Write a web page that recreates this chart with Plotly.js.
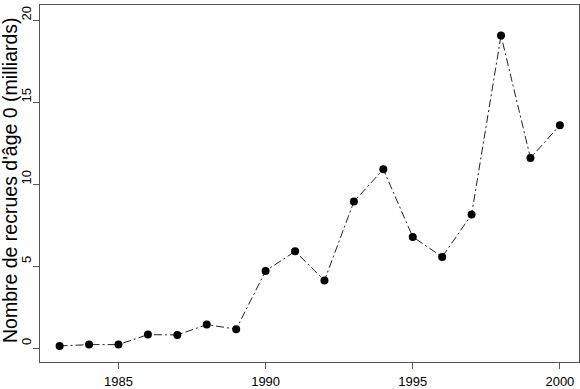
<!DOCTYPE html>
<html>
<head>
<meta charset="utf-8">
<script src="https://cdn.plot.ly/plotly-3.0.1.min.js"></script>
<style>html,body{margin:0;padding:0;background:#fff;}#chart{width:580px;height:389px;}</style>
</head>
<body>
<div id="chart"></div>
<script>
const years = [1983,1984,1985,1986,1987,1988,1989,1990,1991,1992,1993,1994,1995,1996,1997,1998,1999,2000];
const recrues = [0.14,0.22,0.22,0.83,0.81,1.44,1.16,4.71,5.91,4.13,8.94,10.91,6.79,5.57,8.15,19.07,11.60,13.60];
const xTicks = [1985,1990,1995,2000];
const yTicks = [0,5,10,15,20];
const yTitle = "Nombre de recrues d'âge 0 (milliards)";

const axisCommon = {
  showgrid:false, zeroline:false, showline:true, linecolor:'#555', linewidth:1,
  mirror:true, ticks:'outside', ticklen:6, tickcolor:'#555', tickwidth:1,
  tickfont:{family:'Liberation Sans, Arial, sans-serif', size:13, color:'#000'},
  fixedrange:true
};

Plotly.newPlot('chart', [{
  x: years, y: recrues, type:'scatter', mode:'lines+markers',
  line:{color:'#222', width:1, dash:'8px,3px,2px,3px'},
  marker:{color:'#000', size:8},
  hoverinfo:'skip'
}], {
  width:580, height:389,
  margin:{l:40, r:1, t:5, b:27, pad:0},
  paper_bgcolor:'#fff', plot_bgcolor:'#fff',
  showlegend:false,
  xaxis: Object.assign({}, axisCommon, {
    range:[1982.333, 2000.65], tickmode:'array', tickvals:xTicks, ticktext:xTicks.map(String),
    ticklabelstandoff:1
  }),
  yaxis: Object.assign({}, axisCommon, {
    range:[-0.84, 20.93], tickmode:'array', tickvals:yTicks, ticktext:yTicks.map(String),
    tickangle:-90, ticklabelshift:-5, ticklabelstandoff:-3
  }),
  annotations:[{
    text:yTitle, textangle:-90, showarrow:false,
    xref:'paper', yref:'paper', x:-0.0555, y:0.51, xanchor:'center', yanchor:'middle',
    font:{family:'Liberation Sans, Arial, sans-serif', size:19.5, color:'#000'}
  }]
}, {displayModeBar:false, staticPlot:true});
</script>
</body>
</html>
